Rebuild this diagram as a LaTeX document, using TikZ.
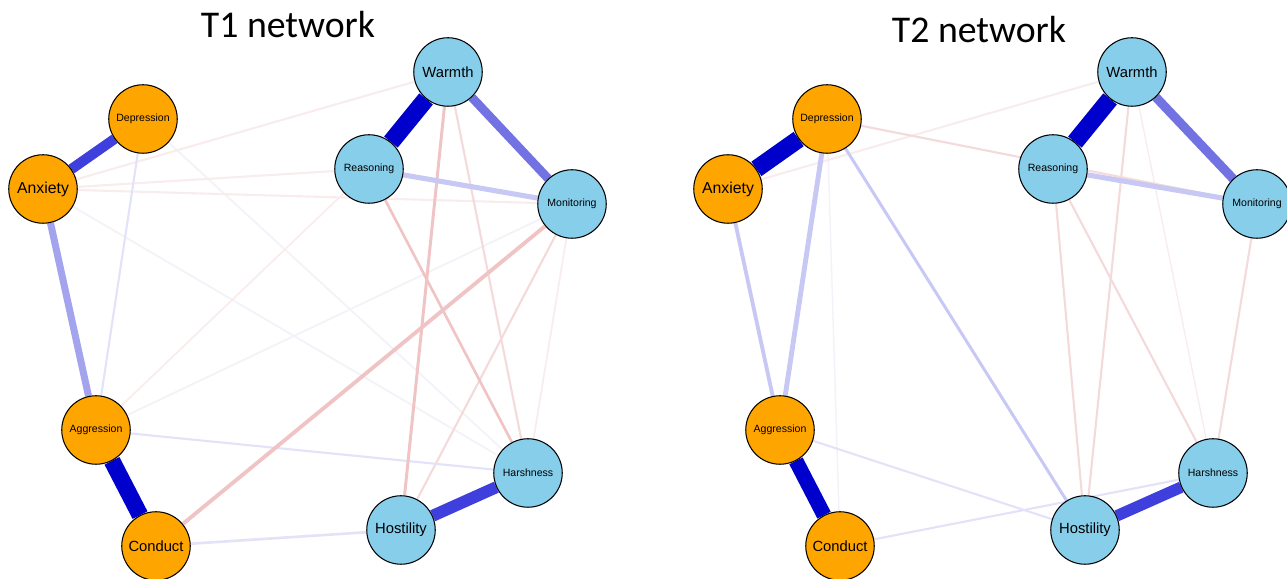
\documentclass[tikz,border=0pt]{standalone}
\usepackage{fontspec}
\setmainfont{Liberation Sans}
\newfontfamily\titlefont{Carlito}
\usetikzlibrary{backgrounds}
\definecolor{nodeorange}{HTML}{FFA500}
\definecolor{nodeblue}{HTML}{87CEEB}
\definecolor{blueA}{HTML}{0000CD}
\definecolor{blueB}{HTML}{3F3FDD}
\definecolor{blueC}{HTML}{7272E2}
\definecolor{blueD}{HTML}{A3A3EE}
\definecolor{blueE}{HTML}{C8C8F4}
\definecolor{blueF}{HTML}{E2E2F8}
\definecolor{blueG}{HTML}{F2F2F8}
\definecolor{redA}{HTML}{F0C4C4}
\definecolor{redB}{HTML}{F4DADA}
\definecolor{redC}{HTML}{F9ECEC}
\begin{document}
\begin{tikzpicture}[symptom/.style={circle,draw=black,line width=0.6pt,fill=nodeorange,minimum size=1.37cm,inner sep=0pt},
  parent/.style={symptom,fill=nodeblue},
  bigtxt/.style={font=\fontsize{8.4}{10}\selectfont},
  smalltxt/.style={font=\fontsize{6}{7}\selectfont},
  tie/.style 2 args={draw=#1,line width=#2}]
\useasboundingbox (0,0) rectangle (25.74,11.58);
% T1 network
\node[anchor=base] (title1) at (5.76,10.82) {\titlefont\fontsize{21.5}{24}\selectfont T1 network};
\node[parent,bigtxt] (war1) at (8.96,10.14) {Warmth};
\node[symptom,smalltxt] (dep1) at (2.86,9.20) {Depression};
\node[symptom,font=\fontsize{9}{10}\selectfont] (anx1) at (0.86,7.80) {Anxiety};
\node[parent,smalltxt] (rea1) at (7.38,8.20) {Reasoning};
\node[parent,smalltxt] (mon1) at (11.44,7.50) {Monitoring};
\node[symptom,smalltxt] (agg1) at (1.92,2.98) {Aggression};
\node[parent,smalltxt] (har1) at (10.56,2.12) {Harshness};
\node[parent,bigtxt] (hos1) at (8.02,0.98) {Hostility};
\node[symptom,bigtxt] (con1) at (3.12,0.66) {Conduct};
\begin{scope}[on background layer]
\draw[tie={blueG}{1pt}] (dep1) -- (har1);
\draw[tie={blueG}{1pt}] (anx1) -- (har1);
\draw[tie={redC}{1pt}] (agg1) -- (rea1);
\draw[tie={blueG}{1pt}] (agg1) -- (mon1);
\draw[tie={redC}{1pt}] (mon1) -- (har1);
\draw[tie={redC}{1.2pt}] (anx1) -- (war1);
\draw[tie={redC}{1.2pt}] (anx1) -- (rea1);
\draw[tie={redC}{1.2pt}] (anx1) -- (mon1);
\draw[tie={redB}{1.2pt}] (war1) -- (har1);
\draw[tie={redB}{1.2pt}] (mon1) -- (hos1);
\draw[tie={blueF}{1.2pt}] (dep1) -- (agg1);
\draw[tie={blueF}{1.2pt}] (agg1) -- (har1);
\draw[tie={blueF}{1.5pt}] (con1) -- (hos1);
\draw[tie={redA}{1.5pt}] (rea1) -- (har1);
\draw[tie={redA}{1.7pt}] (war1) -- (hos1);
\draw[tie={redA}{2.2pt}] (mon1) -- (con1);
\draw[tie={blueE}{2.9pt}] (rea1) -- (mon1);
\draw[tie={blueD}{4pt}] (anx1) -- (agg1);
\draw[tie={blueC}{5pt}] (war1) -- (mon1);
\draw[tie={blueB}{5.8pt}] (dep1) -- (anx1);
\draw[tie={blueB}{6.8pt}] (hos1) -- (har1);
\draw[tie={blueA}{9.5pt}] (agg1) -- (con1);
\draw[tie={blueA}{10pt}] (war1) -- (rea1);
\end{scope}
% T2 network
\node[anchor=base] (title2) at (19.58,10.72) {\titlefont\fontsize{21.5}{24}\selectfont T2 network};
\node[parent,bigtxt] (war2) at (22.64,10.14) {Warmth};
\node[symptom,smalltxt] (dep2) at (16.54,9.20) {Depression};
\node[symptom,font=\fontsize{9}{10}\selectfont] (anx2) at (14.56,7.80) {Anxiety};
\node[parent,smalltxt] (rea2) at (21.06,8.20) {Reasoning};
\node[parent,smalltxt] (mon2) at (25.14,7.50) {Monitoring};
\node[symptom,smalltxt] (agg2) at (15.60,2.98) {Aggression};
\node[parent,smalltxt] (har2) at (24.26,2.12) {Harshness};
\node[parent,bigtxt] (hos2) at (21.70,0.98) {Hostility};
\node[symptom,bigtxt] (con2) at (16.80,0.66) {Conduct};
\begin{scope}[on background layer]
\draw[tie={blueG}{0.8pt}] (dep2) -- (con2);
\draw[tie={redC}{0.8pt}] (war2) -- (har2);
\draw[tie={redC}{1.2pt}] (anx2) -- (war2);
\draw[tie={redB}{1.2pt}] (dep2) -- (mon2);
\draw[tie={blueF}{1.2pt}] (agg2) -- (hos2);
\draw[tie={blueF}{1.2pt}] (con2) -- (har2);
\draw[tie={redB}{1.2pt}] (war2) -- (hos2);
\draw[tie={redB}{1.2pt}] (rea2) -- (hos2);
\draw[tie={redB}{1.2pt}] (rea2) -- (har2);
\draw[tie={redB}{1.2pt}] (mon2) -- (har2);
\draw[tie={blueE}{1.7pt}] (dep2) -- (hos2);
\draw[tie={blueE}{2.2pt}] (anx2) -- (agg2);
\draw[tie={blueE}{2.8pt}] (dep2) -- (agg2);
\draw[tie={blueE}{2.9pt}] (rea2) -- (mon2);
\draw[tie={blueC}{5.2pt}] (war2) -- (mon2);
\draw[tie={blueB}{6.5pt}] (hos2) -- (har2);
\draw[tie={blueA}{8.5pt}] (agg2) -- (con2);
\draw[tie={blueA}{10pt}] (dep2) -- (anx2);
\draw[tie={blueA}{10pt}] (war2) -- (rea2);
\end{scope}
\end{tikzpicture}
\end{document}
